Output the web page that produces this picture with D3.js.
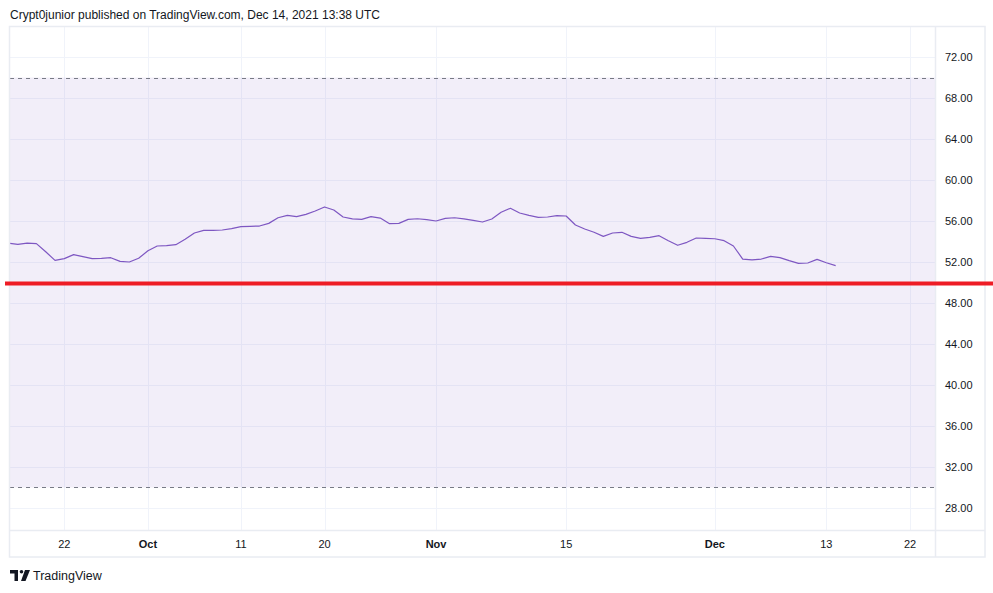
<!DOCTYPE html>
<html lang="en">
<head>
    <meta charset="UTF-8">
    <title>rsi</title>
    <script src="https://d3js.org/d3.v7.min.js"></script>
    <style>
    html, body {
        margin: 0;
        padding: 0;
        background: #ffffff;
    }
    text {
        font-family: "Liberation Sans", Arial, sans-serif;
        fill: #131722;
    }
    </style>
</head>
<body>
<div id="chart"></div>
<script>

    // daily values starting at startDate, one per day
    var startDate = "2021-09-16";
    var rsiValues = [
        53.83, 53.72, 53.85, 53.79, 53.00, 52.16, 52.33, 52.72, 52.52, 52.33, 52.36, 52.42, 52.06, 52.00, 52.36,
        53.10, 53.56, 53.60, 53.69, 54.21, 54.83, 55.09, 55.09, 55.12, 55.25, 55.45, 55.48, 55.51, 55.77, 56.32,
        56.55, 56.42, 56.65, 56.98, 57.37, 57.07, 56.39, 56.20, 56.16, 56.42, 56.29, 55.74, 55.77, 56.16, 56.22, 56.13,
        56.00, 56.26, 56.32, 56.20, 56.07, 55.90, 56.20, 56.85, 57.24, 56.78, 56.55, 56.36, 56.39, 56.52, 56.49,
        55.61, 55.22, 54.90, 54.50, 54.83, 54.90, 54.50, 54.31, 54.41, 54.57, 54.08, 53.63, 53.92, 54.34, 54.31,
        54.27, 54.08, 53.56, 52.29, 52.20, 52.29, 52.55, 52.42, 52.13, 51.87, 51.90, 52.26, 51.93, 51.64
    ];

    var bandLevels = [30, 70];
    var redLevel = 49.9;

    var yTicks = [28, 32, 36, 40, 44, 48, 52, 56, 60, 64, 68, 72];
    var xTickDates = ["2021-09-22", "2021-10-01", "2021-10-11", "2021-10-20", "2021-11-01",
                      "2021-11-15", "2021-12-01", "2021-12-13", "2021-12-22"];
    var xTickLabels = ["22", "Oct", "11", "20", "Nov", "15", "Dec", "13", "22"];
    var xTickBold = [false, true, false, false, true, false, true, false, false];

    var title = "Crypt0junior published on TradingView.com, Dec 14, 2021 13:38 UTC";

    // layout
    var W = 993, H = 593;
    var plot = {left: 10, right: 935, top: 27, bottom: 530};
    var axisRight = 985, axisBottom = 557;

    var parse = d3.utcParse("%Y-%m-%d");
    var day0 = parse(startDate);
    var data = rsiValues.map(function(v, i) {
        return {date: d3.utcDay.offset(day0, i), value: v};
    });

    var x = d3.scaleUtc()
        .domain([parse("2021-09-22"), parse("2021-12-22")])
        .range([64.3, 910]);
    var y = d3.scaleLinear()
        .domain([25.85, 74.93])
        .range([plot.bottom, plot.top]);

    var svg = d3.select("#chart").append("svg")
        .attr("width", W)
        .attr("height", H);

    svg.append("defs").append("clipPath")
        .attr("id", "plotClip")
        .append("rect")
        .attr("x", plot.left)
        .attr("y", plot.top)
        .attr("width", plot.right - plot.left)
        .attr("height", plot.bottom - plot.top);

    // title
    svg.append("text")
        .attr("x", 10)
        .attr("y", 19)
        .style("font-size", "12px")
        .text(title);

    // grid
    var grid = svg.append("g").attr("clip-path", "url(#plotClip)");
    grid.selectAll(".hgrid").data(yTicks).enter().append("line")
        .attr("x1", plot.left).attr("x2", plot.right)
        .attr("y1", function(d) { return Math.round(y(d)) + 0.5; })
        .attr("y2", function(d) { return Math.round(y(d)) + 0.5; })
        .attr("stroke", "#f0f3fa");
    grid.selectAll(".vgrid").data(xTickDates).enter().append("line")
        .attr("y1", plot.top).attr("y2", plot.bottom)
        .attr("x1", function(d) { return Math.round(x(parse(d))) + 0.5; })
        .attr("x2", function(d) { return Math.round(x(parse(d))) + 0.5; })
        .attr("stroke", "#f0f3fa");

    // band 30-70
    svg.append("rect")
        .attr("x", plot.left)
        .attr("width", plot.right - plot.left)
        .attr("y", y(bandLevels[1]))
        .attr("height", y(bandLevels[0]) - y(bandLevels[1]))
        .attr("fill", "rgba(126, 87, 194, 0.1)");

    svg.selectAll(".bandline").data(bandLevels).enter().append("line")
        .attr("x1", plot.left).attr("x2", plot.right)
        .attr("y1", function(d) { return Math.round(y(d)) + 0.5; })
        .attr("y2", function(d) { return Math.round(y(d)) + 0.5; })
        .attr("stroke", "#787b86")
        .attr("stroke-dasharray", "4,4");

    // rsi line
    var valueline = d3.line()
        .x(function(d) { return x(d.date); })
        .y(function(d) { return y(d.value); });

    svg.append("path")
        .datum(data)
        .attr("clip-path", "url(#plotClip)")
        .attr("fill", "none")
        .attr("stroke", "#7e57c2")
        .attr("stroke-width", 1.2)
        .attr("stroke-linejoin", "round")
        .attr("d", valueline);

    // frame and axis separators
    svg.append("rect")
        .attr("x", 9.5).attr("y", 26.5)
        .attr("width", axisRight - 9.5).attr("height", axisBottom - 26.5)
        .attr("fill", "none")
        .attr("stroke", "#e9ecf2")
        .attr("stroke-width", 1.5);
    svg.append("line")
        .attr("x1", plot.right + 0.5).attr("x2", plot.right + 0.5)
        .attr("y1", 26).attr("y2", axisBottom)
        .attr("stroke", "#e9ecf2").attr("stroke-width", 1.5);
    svg.append("line")
        .attr("x1", 9.5).attr("x2", axisRight)
        .attr("y1", plot.bottom + 0.5).attr("y2", plot.bottom + 0.5)
        .attr("stroke", "#e9ecf2").attr("stroke-width", 1.5);

    // price axis
    svg.selectAll(".ylab").data(yTicks).enter().append("text")
        .attr("x", 945)
        .attr("y", function(d) { return y(d) + 4; })
        .style("font-size", "11px")
        .text(function(d) { return d3.format(".2f")(d); });

    // time axis
    svg.selectAll(".xlab").data(xTickDates).enter().append("text")
        .attr("x", function(d) { return x(parse(d)); })
        .attr("y", 548)
        .attr("text-anchor", "middle")
        .style("font-size", "11px")
        .style("font-weight", function(d, i) { return xTickBold[i] ? "bold" : "normal"; })
        .text(function(d, i) { return xTickLabels[i]; });

    // hand drawn red line
    svg.append("line")
        .attr("x1", 5).attr("x2", W)
        .attr("y1", y(redLevel)).attr("y2", y(redLevel))
        .attr("stroke", "#ee1c25")
        .attr("stroke-width", 4);

    // footer logo
    var logo = svg.append("g").attr("transform", "translate(10,570)");
    logo.append("path")
        .attr("d", "M0,0 H8 V11 H4.5 V3.5 H0 Z")
        .attr("fill", "#131722");
    logo.append("circle")
        .attr("cx", 11.5).attr("cy", 1.8).attr("r", 1.8)
        .attr("fill", "#131722");
    logo.append("path")
        .attr("d", "M15,0 H20 L15.5,11 H11 Z")
        .attr("fill", "#131722");
    svg.append("text")
        .attr("x", 33)
        .attr("y", 580)
        .style("font-size", "12.5px")
        .text("TradingView");

</script>
</body>
</html>
